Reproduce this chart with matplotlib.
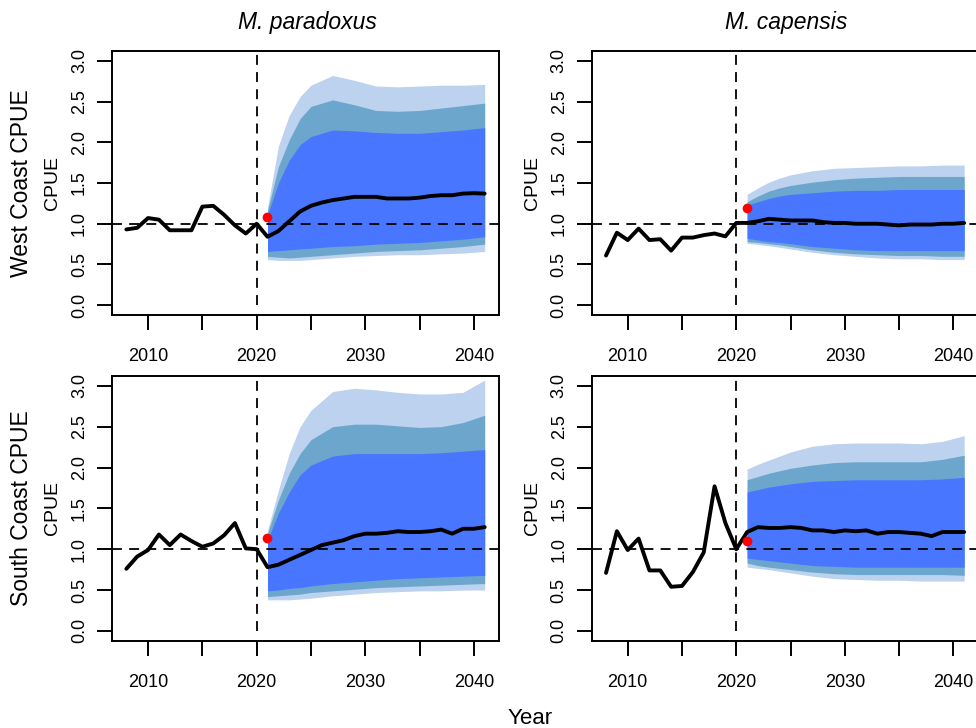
import numpy as np
import matplotlib
matplotlib.use('Agg')
import matplotlib.pyplot as plt

plt.rcParams['font.family'] = ['Liberation Sans', 'DejaVu Sans']

# anos
hist_years = list(range(2008, 2021))
proj_years = list(range(2021, 2042))
band_years = [2021, 2022, 2023, 2024, 2025, 2027, 2029, 2031, 2033, 2035, 2037, 2039, 2041]

species = ['M. paradoxus', 'M. capensis']
regions = ['West Coast CPUE', 'South Coast CPUE']

# colores de las bandas (exterior -> interior)
col_light = '#BCD2EE'
col_mid = '#6CA6CD'
col_inner = '#4876FF'

###################
# WEST COAST - M. paradoxus
###################
wp_hist = [0.93, 0.95, 1.07, 1.05, 0.92, 0.92, 0.92, 1.21, 1.22, 1.11, 0.98, 0.88, 1.00]
wp_proj = [0.84, 0.91, 1.03, 1.15, 1.22, 1.26, 1.29, 1.31, 1.33, 1.33, 1.33,
           1.31, 1.31, 1.31, 1.32, 1.34, 1.35, 1.35, 1.37, 1.375, 1.37]
wp_obs = 1.08
wp_light_hi = [1.20, 1.95, 2.33, 2.56, 2.70, 2.82, 2.76, 2.69, 2.68, 2.69, 2.70, 2.70, 2.71]
wp_mid_hi = [1.16, 1.70, 2.03, 2.29, 2.44, 2.52, 2.46, 2.39, 2.38, 2.39, 2.42, 2.45, 2.48]
wp_inner_hi = [1.11, 1.50, 1.78, 1.97, 2.07, 2.15, 2.14, 2.12, 2.11, 2.11, 2.13, 2.15, 2.18]
wp_inner_lo = [0.66, 0.67, 0.68, 0.69, 0.70, 0.72, 0.73, 0.75, 0.76, 0.77, 0.79, 0.81, 0.84]
wp_mid_lo = [0.60, 0.59, 0.58, 0.59, 0.60, 0.62, 0.64, 0.66, 0.67, 0.68, 0.70, 0.72, 0.75]
wp_light_lo = [0.56, 0.55, 0.55, 0.55, 0.56, 0.58, 0.60, 0.61, 0.62, 0.62, 0.63, 0.64, 0.66]

###################
# WEST COAST - M. capensis
###################
wc_hist = [0.61, 0.89, 0.80, 0.94, 0.80, 0.81, 0.67, 0.83, 0.83, 0.86, 0.88, 0.845, 1.01]
wc_proj = [1.01, 1.03, 1.06, 1.05, 1.04, 1.04, 1.04, 1.02, 1.01, 1.01, 1.00,
           1.00, 1.00, 0.99, 0.98, 0.99, 0.99, 0.99, 1.00, 1.00, 1.01]
wc_obs = 1.19
wc_light_hi = [1.36, 1.44, 1.51, 1.56, 1.60, 1.65, 1.68, 1.69, 1.70, 1.71, 1.71, 1.72, 1.72]
wc_mid_hi = [1.27, 1.34, 1.40, 1.44, 1.47, 1.51, 1.54, 1.56, 1.57, 1.58, 1.58, 1.58, 1.58]
wc_inner_hi = [1.23, 1.27, 1.31, 1.34, 1.36, 1.38, 1.40, 1.41, 1.41, 1.42, 1.42, 1.42, 1.42]
wc_inner_lo = [0.82, 0.80, 0.78, 0.77, 0.755, 0.72, 0.70, 0.68, 0.67, 0.67, 0.67, 0.67, 0.67]
wc_mid_lo = [0.78, 0.77, 0.755, 0.74, 0.72, 0.68, 0.65, 0.63, 0.62, 0.61, 0.61, 0.60, 0.60]
wc_light_lo = [0.76, 0.745, 0.73, 0.71, 0.69, 0.65, 0.62, 0.60, 0.58, 0.57, 0.57, 0.56, 0.56]

###################
# SOUTH COAST - M. paradoxus
###################
sp_hist = [0.76, 0.91, 0.99, 1.18, 1.05, 1.18, 1.10, 1.03, 1.07, 1.17, 1.32, 1.01, 1.00]
sp_proj = [0.78, 0.81, 0.87, 0.93, 0.99, 1.05, 1.08, 1.11, 1.16, 1.19, 1.19,
           1.20, 1.22, 1.21, 1.21, 1.22, 1.24, 1.19, 1.25, 1.25, 1.27]
sp_obs = 1.14
sp_light_hi = [1.23, 1.72, 2.17, 2.50, 2.70, 2.93, 2.97, 2.95, 2.92, 2.90, 2.90, 2.92, 3.07]
sp_mid_hi = [1.19, 1.60, 1.93, 2.17, 2.34, 2.50, 2.53, 2.53, 2.51, 2.49, 2.50, 2.55, 2.64]
sp_inner_hi = [1.11, 1.44, 1.70, 1.91, 2.03, 2.14, 2.17, 2.17, 2.17, 2.17, 2.18, 2.20, 2.22]
sp_inner_lo = [0.49, 0.50, 0.52, 0.53, 0.55, 0.58, 0.60, 0.62, 0.64, 0.65, 0.66, 0.67, 0.68]
sp_mid_lo = [0.42, 0.43, 0.44, 0.45, 0.47, 0.49, 0.51, 0.53, 0.54, 0.55, 0.56, 0.57, 0.58]
sp_light_lo = [0.38, 0.38, 0.38, 0.39, 0.40, 0.43, 0.45, 0.47, 0.48, 0.49, 0.49, 0.50, 0.50]

###################
# SOUTH COAST - M. capensis
###################
sc_hist = [0.71, 1.22, 0.99, 1.13, 0.74, 0.74, 0.54, 0.55, 0.72, 0.96, 1.77, 1.32, 1.00]
sc_proj = [1.21, 1.27, 1.26, 1.26, 1.27, 1.26, 1.23, 1.23, 1.21, 1.23, 1.22,
           1.23, 1.19, 1.21, 1.21, 1.20, 1.19, 1.16, 1.21, 1.21, 1.21]
sc_obs = 1.10
sc_light_hi = [1.98, 2.04, 2.09, 2.14, 2.19, 2.26, 2.29, 2.30, 2.30, 2.30, 2.29, 2.32, 2.39]
sc_mid_hi = [1.85, 1.89, 1.93, 1.96, 1.99, 2.03, 2.06, 2.07, 2.07, 2.07, 2.07, 2.10, 2.15]
sc_inner_hi = [1.70, 1.73, 1.76, 1.78, 1.80, 1.83, 1.84, 1.85, 1.85, 1.85, 1.85, 1.86, 1.88]
sc_inner_lo = [0.89, 0.875, 0.86, 0.845, 0.83, 0.80, 0.79, 0.78, 0.78, 0.78, 0.78, 0.78, 0.78]
sc_mid_lo = [0.83, 0.80, 0.78, 0.765, 0.75, 0.72, 0.70, 0.69, 0.69, 0.69, 0.69, 0.69, 0.68]
sc_light_lo = [0.78, 0.765, 0.75, 0.73, 0.71, 0.67, 0.64, 0.63, 0.62, 0.62, 0.61, 0.61, 0.61]


def drawPanel(ax, hist, proj, obs, light, mid, inner):
  """ dibuja un panel: bandas, linea mediana, referencias y punto observado """
  ax.fill_between(band_years, light[0], light[1], color=col_light, lw=0, zorder=1)
  ax.fill_between(band_years, mid[0], mid[1], color=col_mid, lw=0, zorder=1.5)
  ax.fill_between(band_years, inner[0], inner[1], color=col_inner, lw=0, zorder=2)

  ax.axhline(1.0, color='black', lw=1.3, ls=(0, (5.5, 4)), zorder=3)
  ax.vlines(2020, 0.0, 3.08, color='black', lw=1.3, linestyles=[(0, (5.5, 4))], zorder=3)

  ax.plot(hist_years + proj_years, hist + proj, color='black', lw=2.8,
          solid_joinstyle='round', solid_capstyle='round', zorder=4)
  ax.plot([2021], [obs], 'o', color='#FF0000', ms=7, mec='none', zorder=5)

  ax.set_xlim(2006.68, 2042.32)
  ax.set_ylim(-0.12, 3.12)
  ax.set_xticks(range(2010, 2041, 5))
  ax.set_xticklabels(['2010', '', '2020', '', '2030', '', '2040'])
  ax.set_yticks([0.0, 0.5, 1.0, 1.5, 2.0, 2.5, 3.0])
  ax.set_yticklabels(['0.0', '0.5', '1.0', '1.5', '2.0', '2.5', '3.0'])
  ax.tick_params(axis='both', direction='out', length=10.8, width=1.4,
                 labelsize=13, colors='black')
  ax.tick_params(axis='x', pad=13)
  ax.tick_params(axis='y', pad=6.5)
  for lab in ax.get_yticklabels():
    lab.set_rotation(90)
    lab.set_va('center')
  for s in ax.spines.values():
    s.set_linewidth(1.4)
    s.set_color('black')


W, H = 976, 728
fig = plt.figure(figsize=(W / 100, H / 100), dpi=100)

# posiciones de los paneles en pixeles (izq, arriba, der, abajo)
boxes = [[(112, 51, 499, 315), (591.7, 51, 978.5, 315)],
         [(112, 376, 499, 640.7), (591.7, 376, 978.5, 640.7)]]

panels = [[(wp_hist, wp_proj, wp_obs, (wp_light_lo, wp_light_hi), (wp_mid_lo, wp_mid_hi), (wp_inner_lo, wp_inner_hi)),
           (wc_hist, wc_proj, wc_obs, (wc_light_lo, wc_light_hi), (wc_mid_lo, wc_mid_hi), (wc_inner_lo, wc_inner_hi))],
          [(sp_hist, sp_proj, sp_obs, (sp_light_lo, sp_light_hi), (sp_mid_lo, sp_mid_hi), (sp_inner_lo, sp_inner_hi)),
           (sc_hist, sc_proj, sc_obs, (sc_light_lo, sc_light_hi), (sc_mid_lo, sc_mid_hi), (sc_inner_lo, sc_inner_hi))]]

for r in range(2):
  for c in range(2):
    l, t, rr, b = boxes[r][c]
    ax = fig.add_axes([l / W, 1 - b / H, (rr - l) / W, (b - t) / H])
    drawPanel(ax, *panels[r][c])
    # etiqueta CPUE de cada panel
    fig.text((l - 59) / W, 1 - ((t + b) / 2) / H, 'CPUE', rotation=90,
             ha='center', va='center', fontsize=14)

# titulos de especie
fig.text(307 / W, 1 - 22 / H, species[0], ha='center', va='center',
         fontsize=16.5, style='italic')
fig.text(786 / W, 1 - 22 / H, species[1], ha='center', va='center',
         fontsize=16.5, style='italic')

# etiquetas de region
fig.text(22 / W, 1 - 183.5 / H, regions[0], rotation=90, ha='center', va='center', fontsize=16.5)
fig.text(22 / W, 1 - 508.5 / H, regions[1], rotation=90, ha='center', va='center', fontsize=16.5)

fig.text(530 / W, 1 - 718 / H, 'Year', ha='center', va='center', fontsize=16)

fig.savefig('out.png', dpi=100)
